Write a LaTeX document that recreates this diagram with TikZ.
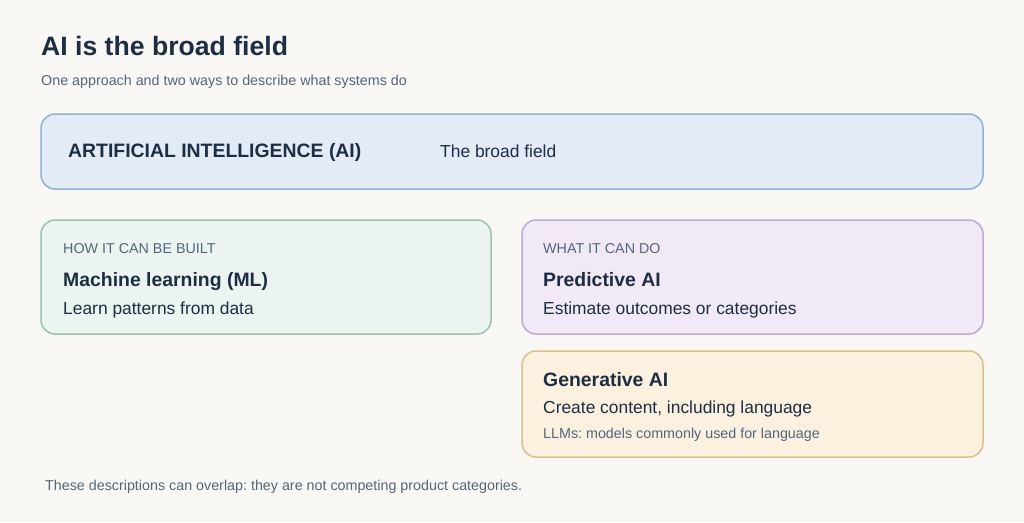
\documentclass[tikz,border=0pt]{standalone}
\usepackage{fontspec}
\setmainfont{Liberation Sans}
\frenchspacing
\definecolor{bgc}{HTML}{F9F8F4}
\definecolor{ink}{HTML}{1C2E44}
\definecolor{muted}{HTML}{52667C}
\definecolor{aifill}{HTML}{E3EBF6}
\definecolor{aiedge}{HTML}{8DB3DB}
\definecolor{mlfill}{HTML}{EBF4F0}
\definecolor{mledge}{HTML}{93C6AF}
\definecolor{prfill}{HTML}{F2E9F6}
\definecolor{predge}{HTML}{C1A6D7}
\definecolor{gefill}{HTML}{FCF0DF}
\definecolor{geedge}{HTML}{E0BF87}
\tikzset{
  panel/.style={rounded corners=14pt, line width=1.5pt},
  txt/.style={anchor=base west, inner sep=0pt, text=ink},
  head/.style={txt, font=\fontsize{19.4}{22}\selectfont\bfseries},
  body/.style={txt, font=\fontsize{17.4}{20}\selectfont},
  tag/.style={txt, text=muted, font=\fontsize{14.3}{17}\selectfont},
}
\begin{document}
\begin{tikzpicture}[x=1pt,y=-1pt]
\fill[bgc] (0,0) rectangle (1024,522);
\useasboundingbox (0,0) rectangle (1024,522);
% title
\node[txt, font=\fontsize{26.6}{31}\selectfont\bfseries] (title) at (41,55) {AI is the broad field};
\node[tag] (subtitle) at (41,85) {One approach and two ways to describe what systems do};
% AI panel
\draw[panel, fill=aifill, draw=aiedge] (41,114) rectangle (983,189);
\node[head] (aihead) at (68,157) {ARTIFICIAL INTELLIGENCE (AI)};
\node[body] (aibody) at (440,157) {The broad field};
% ML panel
\draw[panel, fill=mlfill, draw=mledge] (41,220) rectangle (491,334);
\node[tag] (mltag) at (63,253) {HOW IT CAN BE BUILT};
\node[head] (mlhead) at (63,286) {Machine learning (ML)};
\node[body] (mlbody) at (63,314) {Learn patterns from data};
% Predictive panel
\draw[panel, fill=prfill, draw=predge] (522,220) rectangle (983,334);
\node[tag] (prtag) at (543,253) {WHAT IT CAN DO};
\node[head] (prhead) at (543,286) {Predictive AI};
\node[body] (prbody) at (543,314) {Estimate outcomes or categories};
% Generative panel
\draw[panel, fill=gefill, draw=geedge] (522,351) rectangle (983,457);
\node[head] (gehead) at (543,386) {Generative AI};
\node[body] (gebody) at (543,413) {Create content, including language};
\node[tag] (getag) at (543,438) {LLMs: models commonly used for language};
% footer
\node[tag] (footer) at (45,490) {These descriptions can overlap: they are not competing product categories.};
\end{tikzpicture}
\end{document}
